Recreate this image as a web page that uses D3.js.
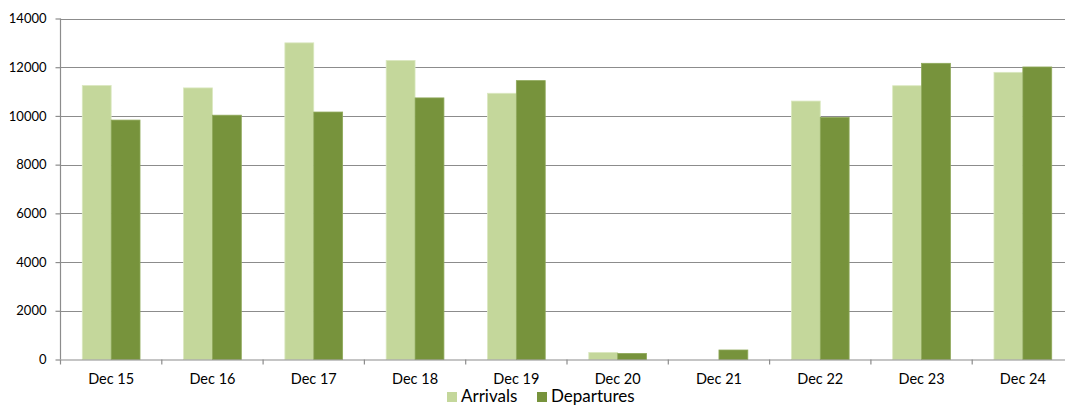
<!DOCTYPE html>
<html><head><meta charset="utf-8">
<script src="https://cdn.jsdelivr.net/npm/d3@7"></script>
<style>body{margin:0;background:#fff;overflow:hidden}svg{display:block}</style>
</head><body><svg id="c" width="1065" height="406"></svg>
<script>
const categories = ["Dec 15","Dec 16","Dec 17","Dec 18","Dec 19","Dec 20","Dec 21","Dec 22","Dec 23","Dec 24"];
const arrivals = [11250,11150,13000,12280,10930,290,0,10610,11240,11790];
const departures = [9830,10030,10160,10740,11450,250,390,9940,12160,12010];
const yTicks = [0,2000,4000,6000,8000,10000,12000,14000];
const seriesNames = ["Arrivals","Departures"];
const colors = ["#c4d79b","#77933c"];

const svg = d3.select("#c");
const font = "Lato, 'Open Sans', sans-serif";
const L = 60.5, R = 1073.5, T = 18.5, B = 359.5;
const x = d3.scaleBand().domain(categories).range([L, R]).paddingInner(0.43).paddingOuter(0.215);
const xs = d3.scaleBand().domain(seriesNames).range([0, x.bandwidth()]);
const y = d3.scaleLinear().domain([0,14000]).range([B, T]);

// gridlines
svg.append("g").selectAll("line").data(yTicks.slice(1)).join("line")
  .attr("x1", L).attr("x2", 1065).attr("y1", d => Math.round(y(d))+0.5).attr("y2", d => Math.round(y(d))+0.5)
  .attr("stroke", "#8c8c8c").attr("stroke-width", 1.2);

// bars
const data = categories.map((c,i) => ({c, v:[arrivals[i], departures[i]]}));
const g = svg.append("g");
data.forEach(d => {
  seriesNames.forEach((s,j) => {
    if (d.v[j] <= 0) return;
    g.append("rect").attr("x", x(d.c) + xs(s)).attr("width", xs.bandwidth())
      .attr("y", y(d.v[j])).attr("height", B - y(d.v[j]))
      .attr("fill", colors[j]).attr("stroke", j===0 ? "#dbe8c0" : "#8fa95a").attr("stroke-width", 0.8);
  });
});

// y axis
const ya = svg.append("g").attr("transform", `translate(${L},0)`)
  .call(d3.axisLeft(y).tickValues(yTicks).tickSize(5).tickPadding(9).tickFormat(d3.format("d")));
ya.select(".domain").attr("stroke", "#8c8c8c").attr("stroke-width", 1.2).attr("d", `M-0,${T}V${B}`);
ya.selectAll(".tick line").attr("stroke", "#8c8c8c").attr("stroke-width", 1.2);
ya.selectAll("text").attr("font-family", font).attr("font-size", 13).attr("fill", "#000");

// x axis
const xa = svg.append("g").attr("transform", `translate(0,${B})`)
  .call(d3.axisBottom(x).tickSize(0).tickPadding(14));
xa.select(".domain").attr("stroke", "#8c8c8c").attr("stroke-width", 1.2);
xa.selectAll("text").attr("font-family", font).attr("font-size", 14.5).attr("fill", "#000");
const step = x.step();
svg.append("g").selectAll("line").data(d3.range(categories.length+1)).join("line")
  .attr("x1", i => L + i*step).attr("x2", i => L + i*step)
  .attr("y1", B).attr("y2", B+5).attr("stroke", "#8c8c8c").attr("stroke-width", 1.2);

// legend
const leg = svg.append("g");
const lx = [447, 537];
seriesNames.forEach((s,j) => {
  leg.append("rect").attr("x", lx[j]).attr("y", 392).attr("width", 10).attr("height", 10).attr("fill", colors[j]);
  leg.append("text").attr("x", lx[j]+14).attr("y", 402).text(s)
    .attr("font-family", font).attr("font-size", 17).attr("fill", "#000");
});
</script></body></html>
